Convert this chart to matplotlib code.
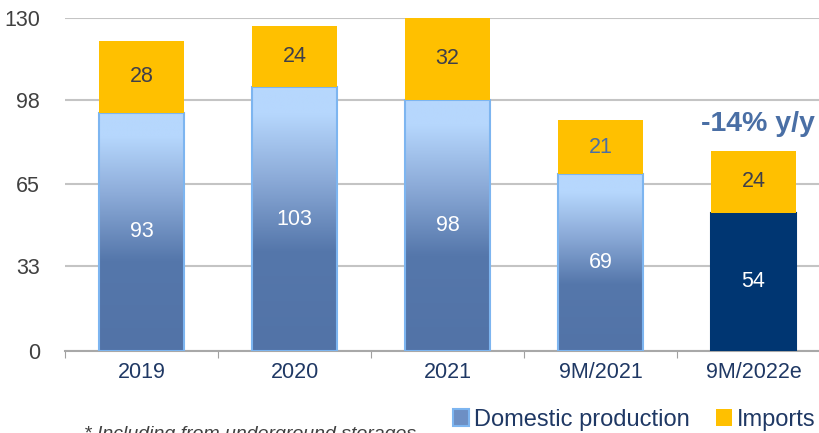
import matplotlib
matplotlib.use("Agg")
import matplotlib.pyplot as plt
import numpy as np
from matplotlib.colors import LinearSegmentedColormap
from matplotlib.patches import Rectangle

categories = ["2019", "2020", "2021", "9M/2021", "9M/2022e"]
domestic = [93, 103, 98, 69, 54]
imports = [28, 24, 32, 21, 24]
yticks = [0, 33, 65, 98, 130]
annotation = "-14% y/y"
footnote = "* Including from underground storages"

plt.rcParams['font.family'] = ['Liberation Sans', 'DejaVu Sans']

fig = plt.figure(figsize=(8.19, 4.33), dpi=100)
ax = fig.add_axes([65/819, 1-351/433, 765/819, 333/433])

x = np.arange(len(categories))
width = 0.56
gradient_bar = [True, True, True, True, False]

cmap = LinearSegmentedColormap.from_list(
    "dom", [(0, '#5273a7'), (0.38, '#5577ab'), (0.66, '#8dacd9'),
            (0.9, '#b6d7fd'), (1, '#b6d7fd')])

face = ['none' if g else '#003672' for g in gradient_bar]
edge = ['#7db5f0' if g else '#003672' for g in gradient_bar]
dom_bars = ax.bar(x, domestic, width, facecolor=face, edgecolor=edge,
                  linewidth=1.5, zorder=3)
imp_bars = ax.bar(x, imports, width, bottom=domestic, color='#FFC000',
                  linewidth=0, zorder=3)

grad = np.linspace(0, 1, 256).reshape(-1, 1)
for patch, g in zip(dom_bars, gradient_bar):
    if not g:
        continue
    x0, y0 = patch.get_x(), patch.get_y()
    w, h = patch.get_width(), patch.get_height()
    im = ax.imshow(grad, extent=[x0, x0 + w, y0, y0 + h], origin='lower',
                   cmap=cmap, aspect='auto', zorder=2.9, interpolation='bilinear')
    im.set_clip_path(patch)

# value labels
for i, (d, m) in enumerate(zip(domestic, imports)):
    ax.text(x[i], d / 2, str(d), ha='center', va='center', color='white',
            fontsize=15.5, zorder=5)
    col = '#4a6fa5' if i == 3 else '#3f3f4a'
    ax.text(x[i], d + m / 2, str(m), ha='center', va='center', color=col,
            fontsize=15.5, zorder=5)

ax.text(x[4] + 0.03, domestic[4] + imports[4] + 10.5, annotation, ha='center',
        va='center', color='#4a6fa5', fontsize=20.5, fontweight='bold')

ax.set_xlim(-0.5, len(categories) - 0.5)
ax.set_ylim(0, 130)
ax.set_yticks(yticks)
ax.set_yticklabels([str(v) for v in yticks])
ax.tick_params(axis='y', length=0, pad=18, labelsize=15.5, labelcolor='#404040')

ax.set_xticks(np.arange(len(categories) + 1) - 0.5)
ax.set_xticklabels([])
ax.set_xticks(x, minor=True)
ax.set_xticklabels(categories, minor=True)
ax.tick_params(axis='x', which='major', length=5, color='#a0a0a0', direction='out')
ax.tick_params(axis='x', which='minor', length=0, pad=8, labelsize=15.5,
               labelcolor='#1f3864')

ax.set_axisbelow(True)
ax.yaxis.grid(True, color='#c4c4c4', linewidth=1.5, zorder=0)
for s in ['top', 'right', 'left']:
    ax.spines[s].set_visible(False)
ax.spines['bottom'].set_color('#a8a8a8')
ax.spines['bottom'].set_linewidth(1.5)

handles = [Rectangle((0, 0), 1, 1, facecolor='#6d8fc4', edgecolor='#7db5f0', linewidth=1.5),
           Rectangle((0, 0), 1, 1, facecolor='#FFC000', edgecolor='none')]
leg = fig.legend(handles, ["Domestic production", "Imports"], loc='center',
                 bbox_to_anchor=(634/819, 1 - 420/433), ncol=2, frameon=False,
                 fontsize=17, handlelength=0.7, handleheight=0.7,
                 handletextpad=0.2, columnspacing=1.1, borderpad=0)
for t in leg.get_texts():
    t.set_color('#1f3864')

fig.text(84/819, 1 - 426/433, footnote, ha='left', va='top', fontsize=14,
         style='italic', color='#404040')

fig.savefig("out.png", dpi=100)
